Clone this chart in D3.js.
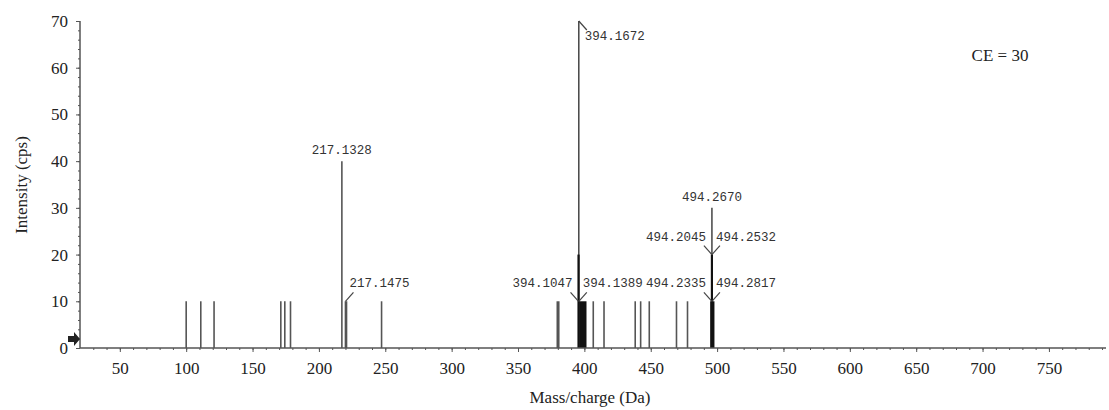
<!DOCTYPE html>
<html>
<head>
<meta charset="utf-8">
<script src="https://cdn.jsdelivr.net/npm/d3@7"></script>
<style>
  body { margin: 0; background: #fff; }
  svg { display: block; }
</style>
</head>
<body>
<div id="chart"></div>
<script>
// MS/MS spectrum, CE = 30

// peaks: [m/z, intensity]
var peaks = [
  [100.0, 10], [111.0, 10], [121.0, 10],
  [171.3, 10], [174.3, 10], [178.6, 10],
  [217.3, 40], [220.0, 10], [220.8, 10],
  [247.2, 10],
  [379.6, 10], [380.7, 10],
  [406.7, 10], [414.8, 10],
  [438.3, 10], [442.4, 10], [448.9, 10],
  [469.4, 10], [477.7, 10]
];
// dense clusters drawn as black bands: [from, to, intensity]
var clusters = [
  [395.4, 401.6, 10],
  [494.8, 498.0, 10]
];
// strong black peaks inside the clusters
var blackPeaks = [
  [395.8, 70], [395.6, 20], [496.1, 30], [496.1, 20]
];

var yTicks = [0, 10, 20, 30, 40, 50, 60, 70];
var xTicks = [50, 100, 150, 200, 250, 300, 350, 400, 450, 500, 550, 600, 650, 700, 750];

// annotations: label, peak m/z, peak intensity
var labels = [
  { text: "217.1328", mz: 217.3, v: 40, kind: "top" },
  { text: "217.1475", mz: 220.0, v: 10, kind: "right" },
  { text: "394.1672", mz: 395.8, v: 70, kind: "down" },
  { text: "394.1047", mz: 395.6, v: 10, kind: "left" },
  { text: "394.1389", mz: 395.8, v: 10, kind: "right" },
  { text: "494.2670", mz: 496.1, v: 30, kind: "top" },
  { text: "494.2045", mz: 496.1, v: 20, kind: "left" },
  { text: "494.2532", mz: 496.1, v: 20, kind: "right" },
  { text: "494.2335", mz: 496.1, v: 10, kind: "left" },
  { text: "494.2817", mz: 496.1, v: 10, kind: "right" }
];

var w = 1109, h = 410;
var svg = d3.select("#chart").append("svg")
  .attr("width", w).attr("height", h);

var x = d3.scaleLinear().domain([20, 793]).range([80, 1106]);
var y = d3.scaleLinear().domain([0, 70]).range([348, 21]);

var serif = "'Liberation Serif', 'DejaVu Serif', serif";
var mono = "'Liberation Mono', 'DejaVu Sans Mono', monospace";
var axisColor = "#555";

// peaks
svg.append("g").selectAll("line")
  .data(peaks)
  .enter().append("line")
  .attr("x1", function(d) { return x(d[0]); })
  .attr("x2", function(d) { return x(d[0]); })
  .attr("y1", y(0))
  .attr("y2", function(d) { return y(d[1]); })
  .attr("stroke", "#555")
  .attr("stroke-width", 1.6);

svg.append("g").selectAll("rect")
  .data(clusters)
  .enter().append("rect")
  .attr("x", function(d) { return x(d[0]); })
  .attr("width", function(d) { return x(d[1]) - x(d[0]); })
  .attr("y", function(d) { return y(d[2]); })
  .attr("height", function(d) { return y(0) - y(d[2]); })
  .attr("fill", "#111");

svg.append("g").selectAll("line")
  .data(blackPeaks)
  .enter().append("line")
  .attr("x1", function(d) { return x(d[0]); })
  .attr("x2", function(d) { return x(d[0]); })
  .attr("y1", y(0))
  .attr("y2", function(d) { return y(d[1]); })
  .attr("stroke", function(d) { return d[1] == 20 ? "#111" : "#444"; })
  .attr("stroke-width", function(d) { return d[1] == 20 ? 2.2 : 1.5; });

// annotations with leader lines
var ann = svg.append("g");
labels.forEach(function(d) {
  var px = x(d.mz), py = y(d.v);
  var t = ann.append("text")
    .attr("font-family", mono)
    .attr("font-size", 12.5)
    .attr("fill", "#333");
  if (d.kind == "top") {
    t.attr("x", px).attr("y", py - 7).attr("text-anchor", "middle");
  } else if (d.kind == "down") {
    ann.append("line")
      .attr("x1", px).attr("y1", py)
      .attr("x2", px + 8).attr("y2", py + 9)
      .attr("stroke", "#444").attr("stroke-width", 1.2);
    t.attr("x", px + 6).attr("y", py + 19);
  } else if (d.kind == "right") {
    ann.append("line")
      .attr("x1", px).attr("y1", py)
      .attr("x2", px + 8).attr("y2", py - 9)
      .attr("stroke", "#444").attr("stroke-width", 1.2);
    t.attr("x", px + 4).attr("y", py - 14);
  } else {
    ann.append("line")
      .attr("x1", px).attr("y1", py)
      .attr("x2", px - 8).attr("y2", py - 9)
      .attr("stroke", "#444").attr("stroke-width", 1.2);
    t.attr("x", px - 6).attr("y", py - 14).attr("text-anchor", "end");
  }
  t.text(d.text);
});

// y axis
var yAxis = svg.append("g")
  .attr("transform", "translate(" + x(20) + ",0)")
  .call(d3.axisLeft(y).tickValues(yTicks).tickSize(4).tickPadding(8));
yAxis.selectAll("line").attr("stroke", axisColor);
svg.append("g")
  .attr("transform", "translate(" + x(20) + ",0)")
  .call(d3.axisLeft(y).tickValues(d3.range(0, 71, 2)).tickSize(2).tickFormat(""))
  .call(function(g) { g.select(".domain").remove(); })
  .selectAll("line").attr("stroke", axisColor);

// x axis
var xAxis = svg.append("g")
  .attr("transform", "translate(0," + y(0) + ")")
  .call(d3.axisBottom(x).tickValues(xTicks).tickSize(4).tickPadding(10));
xAxis.selectAll("line").attr("stroke", axisColor);
svg.append("g")
  .attr("transform", "translate(0," + y(0) + ")")
  .call(d3.axisBottom(x).tickValues(d3.range(30, 791, 10)).tickSize(2).tickFormat(""))
  .call(function(g) { g.select(".domain").remove(); })
  .selectAll("line").attr("stroke", axisColor);

[yAxis, xAxis].forEach(function(g) {
  g.select(".domain")
    .attr("stroke", axisColor)
    .attr("stroke-width", 1.5);
  g.selectAll("text")
    .attr("font-family", serif)
    .attr("font-size", 17)
    .attr("fill", "#222");
});
// the domain path of axisLeft/axisBottom has outer ticks; redraw them flat
yAxis.select(".domain").attr("d", "M0," + y(70) + "V" + y(0));
xAxis.select(".domain").attr("d", "M" + x(20) + ",0H" + x(793));

// small marker arrow on the y axis
svg.append("path")
  .attr("d", "M68,336 L74,336 L74,332 L80,339 L74,346 L74,342 L68,342 Z")
  .attr("fill", "#222");

// axis titles
svg.append("text")
  .attr("x", 590).attr("y", 403)
  .attr("text-anchor", "middle")
  .attr("font-family", serif).attr("font-size", 17).attr("fill", "#222")
  .text("Mass/charge (Da)");

svg.append("text")
  .attr("transform", "translate(27,185) rotate(-90)")
  .attr("text-anchor", "middle")
  .attr("font-family", serif).attr("font-size", 17).attr("fill", "#222")
  .text("Intensity (cps)");

svg.append("text")
  .attr("x", 1000).attr("y", 61)
  .attr("text-anchor", "middle")
  .attr("font-family", serif).attr("font-size", 17).attr("fill", "#222")
  .text("CE = 30");
</script>
</body>
</html>
